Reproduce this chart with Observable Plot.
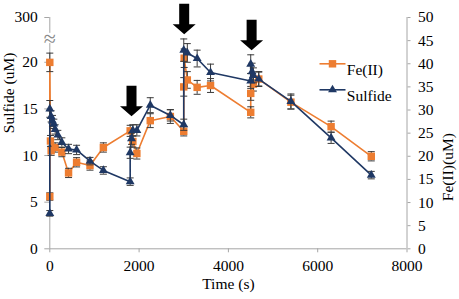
<!DOCTYPE html>
<html><head><meta charset="utf-8">
<script src="https://cdn.jsdelivr.net/npm/d3@7"></script>
<script src="https://cdn.jsdelivr.net/npm/@observablehq/plot@0.6"></script>
<style>
html,body{margin:0;padding:0;background:#fff;}
#chart svg{display:block;}
#chart svg, #chart svg text{font-family:"Liberation Serif","Times New Roman",serif !important;}
#chart svg text.brk{font-family:"DejaVu Sans",sans-serif !important;}
</style>
</head><body><div id="chart"></div>
<script>
// ---- data ----
const sulfideTime  = [0, 0, 30, 60, 90, 120, 180, 270, 420, 600, 900, 1200, 1800, 1800, 1830, 1860, 1950, 2250, 2700, 3000, 3000, 3080, 3300, 3600, 4500, 4500, 4530, 4560, 4680, 5400, 6300, 7200];
const sulfideValue = [3.8, 15.0, 14.2, 13.7, 13.4, 12.8, 12.2, 11.4, 10.7, 10.6, 9.4, 8.4, 7.2, 10.3, 11.8, 12.7, 12.7, 15.4, 14.3, 13.3, 21.3, 21.0, 20.4, 18.9, 18.0, 19.8, 19.0, 18.6, 18.2, 15.8, 11.9, 7.9];
const sulfideErr   = [0.3, 0.9, 0.6, 0.6, 0.5, 0.5, 0.5, 0.5, 0.5, 0.5, 0.4, 0.4, 0.4, 0.6, 0.6, 0.6, 0.6, 0.8, 0.6, 0.6, 1.2, 1.0, 0.9, 0.9, 0.8, 1.0, 0.9, 0.8, 0.8, 0.8, 0.6, 0.4];

const feTime  = [0, 0, 15, 30, 120, 270, 420, 600, 900, 1200, 1800, 1860, 1950, 2250, 2700, 3000, 3000, 3010, 3080, 3300, 3600, 4500, 4500, 4560, 4680, 5400, 6300, 7200];
const feValue = [11.3, 40.3, 23.3, 21.2, 21.9, 20.9, 16.4, 18.7, 18.0, 21.9, 25.5, 23.2, 20.6, 27.7, 28.6, 25.4, 35.0, 41.2, 36.5, 34.9, 35.3, 29.5, 33.6, 35.6, 36.7, 31.7, 26.4, 20.0];
const feErr   = [0.8, 2.0, 1.2, 1.0, 1.0, 1.0, 1.0, 1.0, 1.0, 1.0, 1.2, 1.2, 1.2, 1.5, 1.5, 1.0, 2.0, 2.0, 1.8, 1.5, 1.5, 1.2, 1.5, 1.5, 1.5, 1.5, 1.2, 1.0];

const injectTime = [1830, 3010, 4520];   // arrows (sulfide additions)
const injectTip  = [14.2, 23.0, 21.3];   // arrow tip level, sulfide units

const xTicks = [0, 2000, 4000, 6000, 8000];
const leftTicks = [0, 5, 10, 15, 20];
const leftTopLabel = "300";
const rightTicks = [0, 5, 10, 15, 20, 25, 30, 35, 40, 45, 50];
const seriesNames = ["Fe(II)", "Sulfide"];

// ---- scales ----
const S_MAX = 24.8, FE_MAX = 50, k = S_MAX / FE_MAX;
const breakLow = 22.0, breakHigh = 23.1;

const orange = "#ED7D31", navy = "#1F3864", errC = "#3a3a3a", axisC = "#a6a6a6";

const sData = sulfideTime.map((t, i) => ({t, v: sulfideValue[i], e: sulfideErr[i]}));
const fData = feTime.map((t, i) => ({t, v: feValue[i] * k, e: feErr[i] * k}));

const capSym = {draw(ctx) { ctx.moveTo(-3.5, 0); ctx.lineTo(3.5, 0); }};
const lineSym = {draw(ctx) { ctx.moveTo(-13, 0); ctx.lineTo(13, 0); }};
const arrowSym = {draw(ctx) {
  ctx.moveTo(0, 0); ctx.lineTo(-11.5, -10); ctx.lineTo(-5, -10); ctx.lineTo(-5, -30.5);
  ctx.lineTo(5, -30.5); ctx.lineTo(5, -10); ctx.lineTo(11.5, -10); ctx.closePath();
}};

function errMarks(data) {
  return [
    Plot.ruleX(data, {x: "t", y1: d => d.v - d.e, y2: d => d.v + d.e, stroke: errC, strokeWidth: 1}),
    Plot.dot(data, {x: "t", y: d => d.v + d.e, symbol: capSym, stroke: errC, fill: "none", strokeWidth: 1}),
    Plot.dot(data, {x: "t", y: d => d.v - d.e, symbol: capSym, stroke: errC, fill: "none", strokeWidth: 1})
  ];
}

const chart = Plot.plot({
  width: 459, height: 299,
  marginLeft: 49.3, marginRight: 52.5, marginTop: 17, marginBottom: 50.7,
  style: {fontSize: "15px", background: "#fff", color: "#000"},
  x: {domain: [0, 8000]},
  y: {domain: [0, S_MAX]},
  marks: [
    // axis lines
    Plot.ruleY([0], {stroke: axisC, strokeWidth: 1}),
    Plot.ruleX([8000], {y1: 0, y2: S_MAX, stroke: axisC, strokeWidth: 1}),
    Plot.ruleX([0], {y1: 0, y2: breakLow, stroke: axisC, strokeWidth: 1}),
    Plot.ruleX([0], {y1: breakHigh, y2: S_MAX, stroke: axisC, strokeWidth: 1}),
    Plot.text(["≈"], {x: 0, y: (breakLow + breakHigh) / 2, fill: "#888", fontSize: 22, className: "brk"}),
    Plot.axisX({ticks: xTicks, tickSize: 4, tickPadding: 7, tickFormat: d => String(d), stroke: axisC, label: null, fontSize: 15.5}),
    Plot.axisY({ticks: [...leftTicks, S_MAX], tickSize: 5, tickPadding: 7, tickFormat: d => d === S_MAX ? leftTopLabel : String(d), stroke: axisC, label: null, fontSize: 15.5}),
    Plot.axisY({anchor: "right", ticks: rightTicks.map(v => v * k), tickSize: 3, tickPadding: 8, tickFormat: d => String(Math.round(d / k)), stroke: axisC, label: null, fontSize: 15.5}),
    // titles
    Plot.text(["Time (s)"], {frameAnchor: "bottom", dy: 40, fontSize: 15.5}),
    Plot.text(["Sulfide (uM)"], {frameAnchor: "left", dx: -40.5, rotate: -90, fontSize: 15.5}),
    Plot.text(["Fe(II)(uM)"], {frameAnchor: "right", dx: 41.5, rotate: -90, fontSize: 15.5}),
    // Fe(II)
    Plot.line(fData, {x: "t", y: "v", stroke: orange, strokeWidth: 1.6}),
    ...errMarks(fData),
    Plot.dot(fData, {x: "t", y: "v", symbol: "square", r: 4.2, fill: orange, stroke: "none"}),
    // Sulfide
    Plot.line(sData, {x: "t", y: "v", stroke: navy, strokeWidth: 1.6}),
    ...errMarks(sData),
    Plot.dot(sData, {x: "t", y: "v", symbol: "triangle", r: 3.3, fill: navy, stroke: "none"}),
    // arrows
    Plot.dot(injectTime.map((t, i) => ({t, y: injectTip[i]})), {x: "t", y: "y", symbol: arrowSym, fill: "#000", stroke: "none"}),
    // legend
    Plot.dot([seriesNames[0]], {frameAnchor: "top-left", dx: 282.7, dy: 46.3, symbol: lineSym, stroke: orange, fill: "none", strokeWidth: 1.6}),
    Plot.dot([seriesNames[0]], {frameAnchor: "top-left", dx: 282.7, dy: 46.3, symbol: "square", r: 4.2, fill: orange, stroke: "none"}),
    Plot.text([seriesNames[0]], {frameAnchor: "top-left", dx: 297, dy: 46.3, text: d => d, textAnchor: "start", fontSize: 15.5}),
    Plot.dot([seriesNames[1]], {frameAnchor: "top-left", dx: 282.7, dy: 72.3, symbol: lineSym, stroke: navy, fill: "none", strokeWidth: 1.6}),
    Plot.dot([seriesNames[1]], {frameAnchor: "top-left", dx: 282.7, dy: 72.3, symbol: "triangle", r: 3.3, fill: navy, stroke: "none"}),
    Plot.text([seriesNames[1]], {frameAnchor: "top-left", dx: 297, dy: 72.3, text: d => d, textAnchor: "start", fontSize: 15.5})
  ]
});
document.getElementById("chart").appendChild(chart);
</script></body></html>
